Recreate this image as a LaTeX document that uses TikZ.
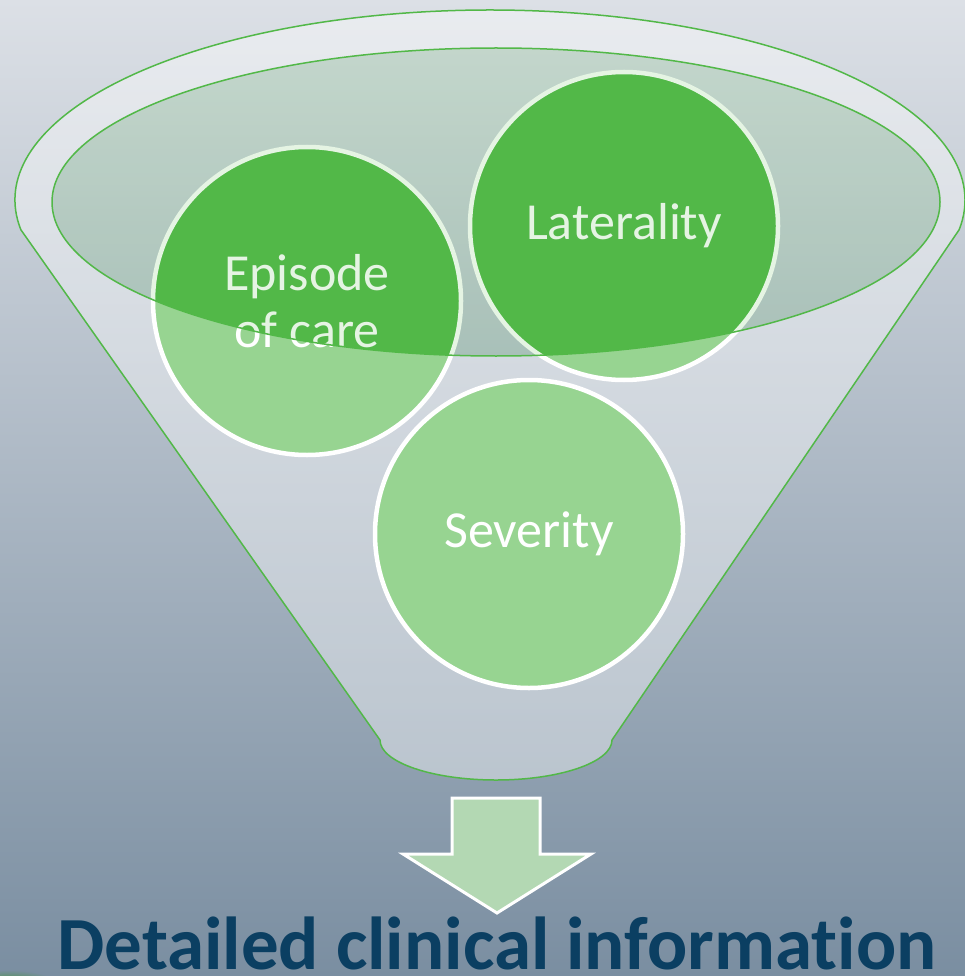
\documentclass[tikz,border=0pt]{standalone}
\usepackage{fontspec}
\setmainfont{Carlito}[Ligatures=NoCommon]
\definecolor{leafgreen}{HTML}{52B848}
\definecolor{palegreen}{HTML}{B3D8B3}
\definecolor{navytext}{HTML}{0B3F62}
\definecolor{skytop}{HTML}{DCE0E6}
\definecolor{skybottom}{HTML}{7A8EA1}
\begin{document}
\begin{tikzpicture}[x=1pt, y=-1pt, main node/.style={circle, draw=white, line width=4.5pt, fill=leafgreen, text=white, minimum size=308pt, align=center, font=\fontsize{52}{57}\selectfont}, rim/.style={draw=leafgreen, line width=1.5pt}]
            \tikzstyle{every node}=[inner sep=0pt]

              \useasboundingbox (0,0) rectangle (965,976);
              \clip (0,0) rectangle (965,976);
              \shade[top color=skytop, bottom color=skybottom] (0,0) rectangle (965,976);
              \shade[inner color=leafgreen!80!black, outer color=skybottom] (8,984) ellipse [x radius=50, y radius=14];

              \node[main node] (1) at (307,301) {Episode\\of care};
              \node[main node] (2) at (624,226) {Laterality};
              \node[main node] (3) at (529,534) {Severity};

              \fill[leafgreen, fill opacity=0.15] (496,202) ellipse [x radius=444, y radius=154];
              \path[rim, fill=white, fill opacity=0.4, even odd rule]
                (490,200) ++(171:475 and 190) arc [start angle=171, end angle=369, x radius=475, y radius=190]
                -- (612,740) arc [start angle=0, end angle=180, x radius=116, y radius=40] -- cycle
                (496,202) ellipse [x radius=444, y radius=154];

              \draw[fill=palegreen, draw=white, line width=3pt, line join=miter]
                (452,798) -- (540,798) -- (540,854) -- (591,854) -- (497,913) -- (403,854) -- (452,854) -- cycle;

              \node[anchor=base, text=navytext, font=\bfseries\fontsize{75}{75}\selectfont] (4) at (497,969) {Detailed clinical information};

            \end{tikzpicture}
\end{document}
